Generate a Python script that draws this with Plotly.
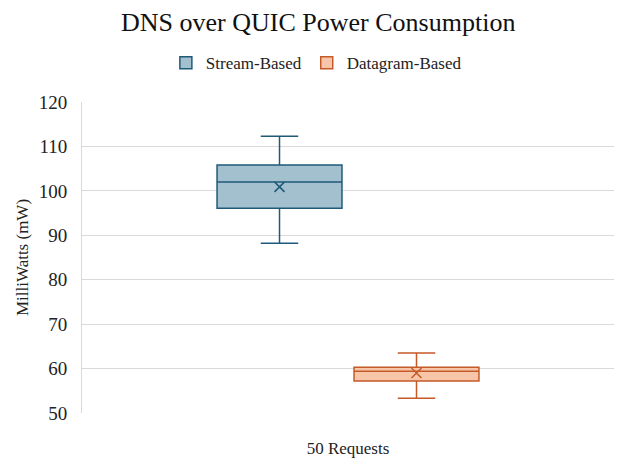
import plotly.graph_objects as go

categories = ["50 Requests"]
series_names = ["Stream-Based", "Datagram-Based"]
lower_fence = [88.2, 53.3]
q1 = [96.1, 57.2]
median = [102.0, 59.4]
q3 = [105.8, 60.3]
upper_fence = [112.3, 63.5]
means = [100.9, 59.0]

line_colors = ["#1F5A78", "#C55A28"]
fill_colors = ["#A3C0CE", "#F7C6A8"]

font_family = "Liberation Serif"

fig = go.Figure()
for i, name in enumerate(series_names):
    fig.add_trace(go.Box(
        name=name,
        x=categories,
        q1=[q1[i]], median=[median[i]], q3=[q3[i]],
        lowerfence=[lower_fence[i]], upperfence=[upper_fence[i]],
        fillcolor=fill_colors[i],
        line=dict(color=line_colors[i], width=1.5),
        whiskerwidth=0.3,
        offsetgroup=str(i),
        alignmentgroup="a",
        hoverinfo="skip",
    ))
for i, name in enumerate(series_names):
    fig.add_trace(go.Scatter(
        x=categories, y=[means[i]],
        mode="markers",
        marker=dict(symbol="x-thin", size=10, line=dict(color=line_colors[i], width=1.5)),
        showlegend=False,
        offsetgroup=str(i),
        alignmentgroup="a",
        hoverinfo="skip",
    ))

fig.update_layout(
    width=624, height=458,
    paper_bgcolor="white", plot_bgcolor="white",
    font=dict(family=font_family, size=17, color="#222222"),
    title=dict(text="DNS over QUIC Power Consumption", x=0.51, xanchor="center",
               xref="container", y=0.952, yanchor="middle", font=dict(size=26, color="#111111")),
    legend=dict(orientation="h", x=0.507, xanchor="center", xref="container",
                y=0.862, yanchor="middle", yref="container",
                font=dict(size=17), itemwidth=30, traceorder="normal"),
    margin=dict(l=82, r=10, t=102, b=45, autoexpand=False),
    boxmode="group", boxgap=0.485, boxgroupgap=0.088,
    scattermode="group", scattergap=0.485,
    showlegend=True,
)
fig.update_yaxes(range=[50, 120], dtick=10, tick0=50, showgrid=True, gridcolor="#D9D9D9",
                 gridwidth=1, zeroline=False, showline=True, linecolor="#D9D9D9",
                 ticks="", ticklabelstandoff=10, tickfont=dict(size=19),
                 title=dict(text="MilliWatts (mW)", font=dict(size=17), standoff=5))
fig.update_xaxes(showgrid=False, zeroline=False, showline=False, ticks="",
                 tickfont=dict(size=17), ticklabelstandoff=23)

fig.write_html("out.html", config={"displayModeBar": False},
               post_script="document.body.style.margin='0';document.body.style.overflow='hidden';")
